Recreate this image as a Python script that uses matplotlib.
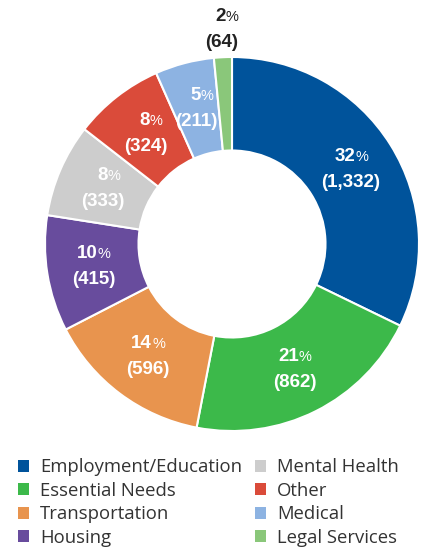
import matplotlib

matplotlib.use('Agg')

import numpy as np
import matplotlib.pyplot as plt
from matplotlib.patches import Patch

# service categories, in clockwise order from 12 o'clock
categories = ["Employment/Education", "Essential Needs", "Transportation", "Housing",
              "Mental Health", "Other", "Medical", "Legal Services"]
counts = [1332, 862, 596, 415, 333, 324, 211, 64]
percents = [32, 21, 14, 10, 8, 8, 5, 2]
colors = ["#00539b", "#3cb94a", "#e8944e", "#684c9d",
          "#cdcdcd", "#da4b3a", "#8db3e2", "#8ac77a"]

label_font = ["Liberation Sans Narrow", "Liberation Sans", "DejaVu Sans"]

fig = plt.figure(figsize=(4.3, 5.48), dpi=100)

# donut axes
cx, cy, r = 232, 244, 187
ax = fig.add_axes([(cx - r) / 430, (548 - cy - r) / 548, 2 * r / 430, 2 * r / 548])

wedges, _ = ax.pie(
    counts,
    colors=colors,
    startangle=90,
    counterclock=False,
    radius=1,
    wedgeprops=dict(width=0.5, edgecolor="white", linewidth=1.5),
)
ax.set_xlim(-1, 1)
ax.set_ylim(-1, 1)
ax.set_aspect("equal")
ax.axis("off")

# labels
for w, pct, n in zip(wedges, percents, counts):
    ang = np.deg2rad((w.theta1 + w.theta2) / 2)
    if pct >= 5:
        d, col = 0.75, "white"
    else:
        d, col = 1.15, "#222222"
    x, y = d * np.cos(ang), d * np.sin(ang)
    ax.annotate(f"{pct}", (x, y), xytext=(3, 9.5), textcoords="offset points",
                ha="right", va="center", color=col, fontsize=13.5,
                fontweight="bold", family=label_font, annotation_clip=False)
    ax.annotate("%", (x, y), xytext=(3, 9), textcoords="offset points",
                ha="left", va="center", color=col, fontsize=10.5,
                family=label_font, annotation_clip=False)
    ax.annotate(f"({n:,})", (x, y), xytext=(0, -9.5), textcoords="offset points",
                ha="center", va="center", color=col, fontsize=13.5,
                fontweight="bold", family=label_font, annotation_clip=False)

# legend
handles = [Patch(facecolor=c, edgecolor="none") for c in colors]
fig.legend(
    handles, categories,
    ncol=2,
    loc="upper left",
    bbox_to_anchor=(0.02, 1 - 449 / 548),
    frameon=False,
    prop={"family": "Open Sans", "size": 13.3},
    handlelength=0.6,
    handleheight=0.6,
    handletextpad=0.6,
    labelspacing=0.3,
    columnspacing=0.7,
    borderpad=0,
    labelcolor="#333333",
)

plt.savefig("out.png", dpi=100)
plt.close()
